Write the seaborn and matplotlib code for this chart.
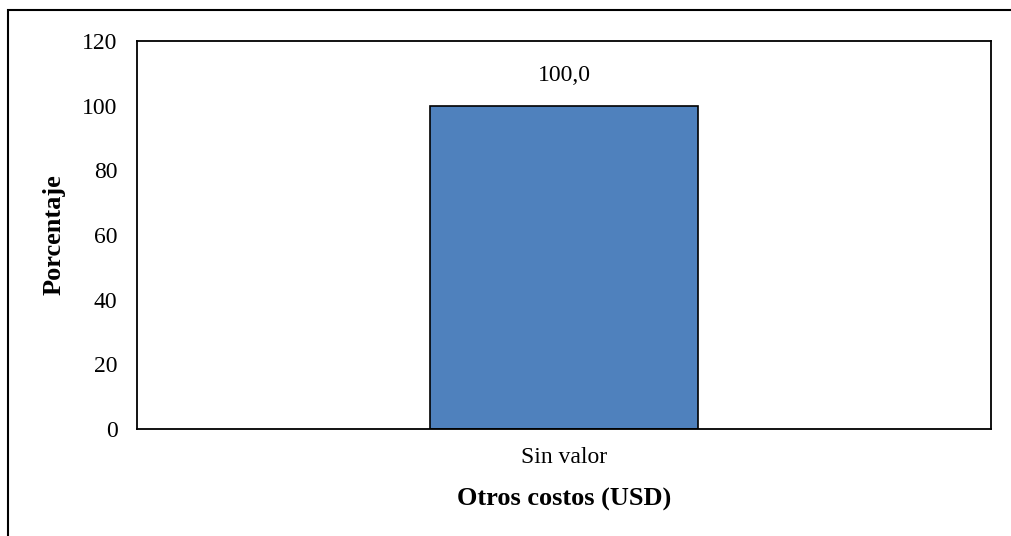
import matplotlib
matplotlib.use("Agg")
import matplotlib.pyplot as plt
import seaborn as sns
import pandas as pd
from matplotlib.patches import Rectangle

categories = ["Sin valor"]
porcentajes = [100.0]
y_ticks = [0, 20, 40, 60, 80, 100, 120]

df = pd.DataFrame({"Categoria": categories, "Porcentaje": porcentajes})

sns.set_style("white")
plt.rcParams["font.family"] = ["Liberation Serif", "DejaVu Serif"]
plt.rcParams["text.color"] = "black"
plt.rcParams["axes.labelcolor"] = "black"

fig = plt.figure(figsize=(10.11, 5.36), dpi=100)
ax = fig.add_axes([137 / 1011, 1 - 429 / 536, (991 - 137) / 1011, (429 - 41) / 536])

sns.barplot(data=df, x="Categoria", y="Porcentaje", color="#4F81BD",
            edgecolor="black", linewidth=1.2, width=0.5, saturation=1, ax=ax)

ax.set_xlim(-0.797, 0.797)
ax.set_ylim(0, 120)
ax.set_yticks(y_ticks)
ax.tick_params(axis="both", length=0, labelsize=17, colors="black")
ax.tick_params(axis="x", pad=13)
ax.tick_params(axis="y", pad=14)
for s in ax.spines.values():
    s.set_visible(True)
    s.set_color("black")
    s.set_linewidth(1.3)

for p, v in zip(ax.patches, porcentajes):
    ax.annotate(f"{v:.1f}".replace(".", ","), (p.get_x() + p.get_width() / 2, p.get_height()),
                xytext=(0, 14), textcoords="offset points", ha="center", va="bottom", fontsize=17)

ax.set_xlabel("Otros costos (USD)", fontsize=19, fontweight="bold", labelpad=14, color="black")
ax.set_ylabel("Porcentaje", fontsize=19, fontweight="bold", labelpad=12, color="black")

# outer frame, cropped on the right and bottom like the source image
fig.patches.append(Rectangle((8 / 1011, -0.1), 1.2, 1.1 - 10 / 536, transform=fig.transFigure,
                             fill=False, edgecolor="black", linewidth=1.5, clip_on=False))

fig.savefig("out.png", dpi=100)
